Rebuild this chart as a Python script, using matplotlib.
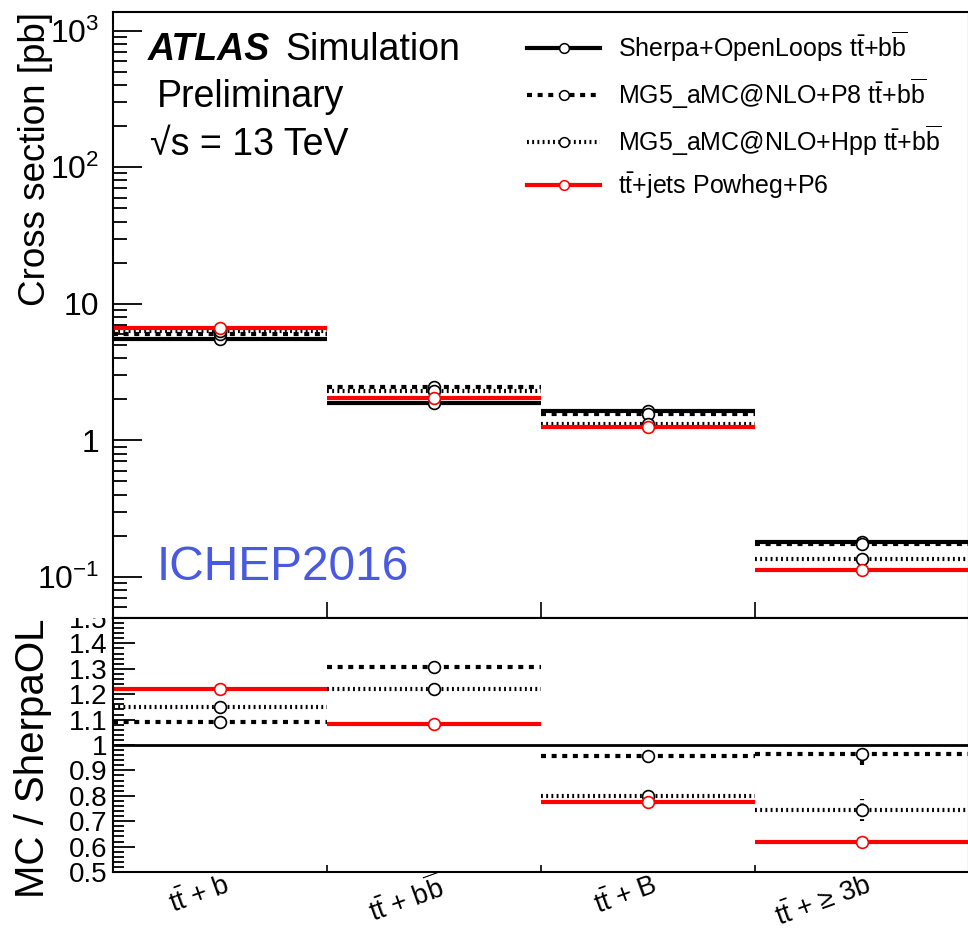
import matplotlib
matplotlib.use("Agg")
import matplotlib.pyplot as plt
from matplotlib.lines import Line2D
from matplotlib.patches import Rectangle
from matplotlib.ticker import FixedLocator, LogLocator, MultipleLocator, FuncFormatter, NullFormatter
import numpy as np

plt.rcParams['font.family'] = ['Liberation Sans', 'DejaVu Sans']
plt.rcParams['mathtext.fontset'] = 'custom'
plt.rcParams['mathtext.rm'] = 'Liberation Sans'
plt.rcParams['mathtext.it'] = 'Liberation Sans:italic'
plt.rcParams['mathtext.bf'] = 'Liberation Sans:bold'

TT = r'$\mathregular{t\bar{t}}$'
BB = r'b$\mathregular{\overline{b}}$'

# categories (bins)
categories = [TT + ' + b', TT + ' + ' + BB, TT + ' + B', TT + ' + ≥ 3b']

# cross sections [pb]
xsec_sherpa = [5.48, 1.88, 1.63, 0.1815]
xsec_mg5_p8 = [5.98, 2.46, 1.56, 0.175]
xsec_mg5_hpp = [6.31, 2.30, 1.31, 0.135]
xsec_powheg = [6.69, 2.04, 1.26, 0.112]

# ratios to Sherpa+OpenLoops
ratio_mg5_p8 = [1.092, 1.308, 0.955, 0.963]
ratio_mg5_hpp = [1.151, 1.222, 0.801, 0.744]
ratio_powheg = [1.220, 1.084, 0.774, 0.618]
ratio_err_mg5_p8 = [0.0, 0.0, 0.0, 0.040]
ratio_err_mg5_hpp = [0.0, 0.0, 0.0, 0.045]

labels = ['Sherpa+OpenLoops ' + TT + '+' + BB,
          'MG5_aMC@NLO+P8 ' + TT + '+' + BB,
          'MG5_aMC@NLO+Hpp ' + TT + '+' + BB,
          TT + '+jets Powheg+P6']

LW = 3.0
styles = [
    dict(color='black', ls='-'),
    dict(color='black', ls=(0, (1.2, 1.35))),
    dict(color='black', ls=(0, (0.45, 0.8))),
    dict(color='#ff0000', ls='-'),
]

W, H = 968, 933
fig = plt.figure(figsize=(W / 100, H / 100), dpi=100)
ax1 = fig.add_axes([113 / W, 1 - 618 / H, 856 / W, (618 - 12) / H])
ax2 = fig.add_axes([113 / W, 1 - 872 / H, 856 / W, (872 - 618) / H])

nbins = len(categories)
edges = np.arange(nbins + 1)
centers = edges[:-1] + 0.5

# upper panel: cross sections
for vals, st in zip([xsec_sherpa, xsec_mg5_p8, xsec_mg5_hpp, xsec_powheg], styles):
    ax1.hlines(vals, edges[:-1], edges[1:], colors=st['color'], linestyles=[st['ls']], lw=LW, zorder=2)
for vals, st in zip([xsec_sherpa, xsec_mg5_p8, xsec_mg5_hpp, xsec_powheg], styles):
    ax1.plot(centers, vals, 'o', ms=8.5, mfc='white', mec=st['color'], mew=1.2, zorder=3)

ax1.set_yscale('log')
ax1.set_xlim(0, nbins)
ax1.set_ylim(0.05, 1370)
ax1.yaxis.set_major_locator(FixedLocator([0.1, 1, 10, 100, 1000]))
ax1.yaxis.set_minor_locator(LogLocator(base=10, subs=np.arange(2, 10)))
ax1.yaxis.set_minor_formatter(NullFormatter())
ytxt = {0.1: r'$\mathregular{10^{-1}}$', 1: '1', 10: '10', 100: r'$\mathregular{10^{2}}$',
        1000: r'$\mathregular{10^{3}}$'}
ax1.yaxis.set_major_formatter(FuncFormatter(lambda v, p: ytxt.get(round(v, 3), '')))
ax1.xaxis.set_major_locator(FixedLocator([1, 2, 3]))
ax1.tick_params(axis='x', which='major', direction='in', length=11.5, width=1.2, labelbottom=False)
ax1.tick_params(axis='y', which='major', direction='in', length=21, width=1.3, labelsize=23, pad=10)
ax1.tick_params(axis='y', which='minor', direction='in', length=10, width=1.3)
ax1.set_ylabel('Cross section [pb]', fontsize=26.5, loc='top')
ax1.yaxis.set_label_coords(-0.070, 1.0)

# lower panel: ratio to Sherpa
ax2.axhline(1.0, color='black', lw=2.0, zorder=2)
for vals, errs, st in zip([ratio_mg5_p8, ratio_mg5_hpp, ratio_powheg],
                          [ratio_err_mg5_p8, ratio_err_mg5_hpp, [0] * nbins], styles[1:]):
    ax2.hlines(vals, edges[:-1], edges[1:], colors=st['color'], linestyles=[st['ls']], lw=LW, zorder=2)
    v = np.array(vals)
    e = np.array(errs)
    ax2.vlines(centers[e > 0], (v - e)[e > 0], (v + e)[e > 0], colors=st['color'],
               linestyles=[st['ls']], lw=LW, zorder=2)
for vals, st in zip([ratio_mg5_p8, ratio_mg5_hpp, ratio_powheg], styles[1:]):
    ax2.plot(centers, vals, 'o', ms=8.5, mfc='white', mec=st['color'], mew=1.2, zorder=3)

ax2.set_xlim(0, nbins)
ax2.set_ylim(0.5, 1.5)
ax2.yaxis.set_major_locator(MultipleLocator(0.1))
ax2.yaxis.set_minor_locator(MultipleLocator(0.02))
ax2.yaxis.set_major_formatter(FuncFormatter(lambda v, p: f'{v:.1f}'.rstrip('0').rstrip('.')))
ax2.xaxis.set_major_locator(FixedLocator([1, 2, 3]))
ax2.tick_params(axis='x', which='major', direction='in', length=5, width=1.2, labelbottom=False)
ax2.tick_params(axis='y', which='major', direction='in', length=16, width=1.3, labelsize=20, pad=4)
ax2.tick_params(axis='y', which='minor', direction='in', length=8, width=1.3)
ax2.set_ylabel('MC / SherpaOL', fontsize=29, loc='top')
ax2.yaxis.set_label_coords(-0.071, 1.0)

for lab, c in zip(categories, centers):
    ax2.annotate(lab, xy=(c, 0), xycoords=('data', 'axes fraction'), xytext=(4, 0),
                 textcoords='offset pixels', ha='right', va='top', rotation=20,
                 rotation_mode='anchor', fontsize=19.5)

for ax in (ax1, ax2):
    for sp in ax.spines.values():
        sp.set_linewidth(1.5)

# hide the part of the 1.5 label that runs into the upper pad
fig.patches.append(Rectangle((60 / W, 1 - 618 / H), 51 / W, 16 / H, transform=fig.transFigure,
                             facecolor='white', edgecolor='none', zorder=5))

# text block
fig.text(148 / W, 1 - 60 / H, 'ATLAS', fontsize=27, fontweight='bold', fontstyle='italic')
fig.text(285 / W, 1 - 60 / H, 'Simulation', fontsize=27)
fig.text(157 / W, 1 - 107 / H, 'Preliminary', fontsize=27)
fig.text(150 / W, 1 - 155 / H, '√s = 13 TeV', fontsize=27)
fig.text(157 / W, 1 - 580 / H, 'ICHEP2016', fontsize=34.5, color='#4a5ae0')

handles = [Line2D([], [], color=st['color'], ls=st['ls'], lw=LW, marker='o', ms=7,
                  mfc='white', mec=st['color'], mew=1.1) for st in styles]
ax1.legend(handles, labels, loc='upper left', bbox_to_anchor=(527 / W, 1 - 30 / H),
           bbox_transform=fig.transFigure, frameon=False, fontsize=18, handlelength=2.92,
           handletextpad=0.72, labelspacing=0.5, borderpad=0, borderaxespad=0)

fig.savefig('out.png', dpi=100)
